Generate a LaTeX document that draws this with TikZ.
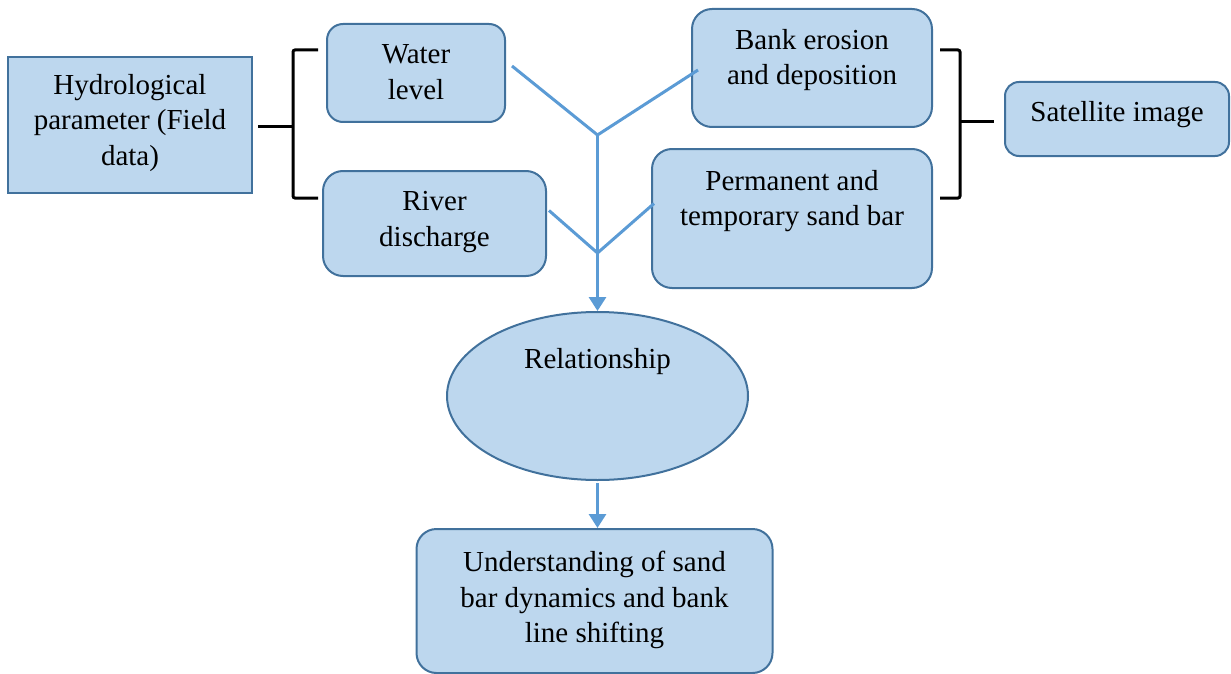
\documentclass[tikz,border=0pt]{standalone}
\usepackage{fontspec}
\setmainfont{Liberation Serif}
\usetikzlibrary{arrows.meta,shapes.geometric}
\definecolor{boxfill}{HTML}{BDD7EE}
\definecolor{boxline}{HTML}{41719C}
\definecolor{conn}{HTML}{5B9BD5}
\tikzset{
  box/.style={draw=boxline, fill=boxfill, line width=2pt, rounded corners=20pt, inner sep=0pt},
  sqbox/.style={draw=boxline, fill=boxfill, line width=2pt, inner sep=0pt},
  txt/.style={align=center, inner sep=0pt, font=\fontsize{29}{35.5}\selectfont},
  link/.style={draw=conn, line width=3pt},
  arr/.style={draw=conn, line width=3pt, -{Triangle[width=17pt,length=14pt]}},
  brace/.style={draw=black, line width=3pt},
}
\begin{document}
\begin{tikzpicture}[x=1pt,y=-1pt]
\useasboundingbox (0,0) rectangle (1231,674);
% boxes
\node[sqbox, minimum width=244pt, minimum height=136pt] (hydro) at (130,125) {};
\node[txt] (hydrot) at (130,123) {Hydrological\\parameter (Field\\data)};
\node[box, rounded corners=16pt, minimum width=178pt, minimum height=98pt] (water) at (416,73) {};
\node[txt] (watert) at (416,72) {Water\\level};
\node[box, minimum width=223pt, minimum height=105pt] (river) at (434.5,223.5) {};
\node[txt] (rivert) at (434.5,222) {River\\discharge};
\node[box, minimum width=240pt, minimum height=118pt] (bank) at (812,68) {};
\node[txt] (bankt) at (812,60) {Bank erosion\\and deposition};
\node[box, minimum width=280pt, minimum height=139pt] (perm) at (792,218.5) {};
\node[txt] (permt) at (792,201) {Permanent and\\temporary sand bar};
\node[box, rounded corners=14pt, minimum width=224pt, minimum height=74pt] (sat) at (1117,119) {};
\node[txt] (satt) at (1117,115) {Satellite image};
\node[ellipse, draw=boxline, fill=boxfill, line width=2pt, minimum width=301pt, minimum height=168pt, inner sep=0pt] (rel) at (597.5,396) {};
\node[txt] (relt) at (597.5,362) {Relationship};
\node[box, minimum width=356pt, minimum height=144pt] (under) at (594.5,601) {};
\node[txt] (undert) at (594.5,600) {Understanding of sand\\bar dynamics and bank\\line shifting};
% brackets
\coordinate (lb1) at (318,50);
\coordinate (lb2) at (318,198);
\coordinate (lbm) at (293,127);
\draw[brace] ([xshift=5pt,yshift=-2pt]hydro.east) -- (lbm);
\draw[brace, rounded corners=2pt] (lb1) -- (293,50) -- (293,198) -- (lb2);
\coordinate (rb1) at (940,50);
\coordinate (rb2) at (940,198);
\coordinate (rbm) at (960,122);
\draw[brace, rounded corners=2pt] (rb1) -- (960,50) -- (960,198) -- (rb2);
\draw[brace] (rbm) -- ([xshift=-10pt,yshift=-3pt]sat.west);
% connectors
\coordinate (j1) at (597.5,135);
\coordinate (j2) at (597.5,253);
\draw[link] ([xshift=6pt,yshift=7pt]water.east) -- (j1);
\draw[link] ([xshift=7pt,yshift=-2pt]bank.west) -- (j1);
\draw[link] (j1) -- (j2);
\draw[link] ([xshift=2pt,yshift=13pt]river.east) -- (j2);
\draw[link] ([xshift=3pt,yshift=15pt]perm.west) -- (j2);
\draw[arr] (j2) -- (rel.north);
\draw[arr] ([yshift=-2pt]rel.south) -- (rel.south |- under.north);
\end{tikzpicture}
\end{document}
